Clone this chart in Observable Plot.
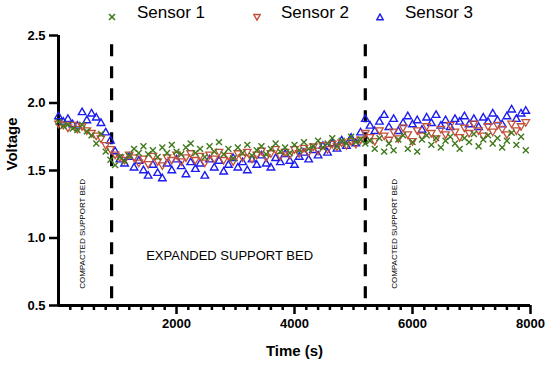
<!DOCTYPE html>
<html>
<head>
<meta charset="utf-8">
<script src="https://cdn.jsdelivr.net/npm/d3@7"></script>
<script src="https://cdn.jsdelivr.net/npm/@observablehq/plot@0.6"></script>
<style>
  body { margin: 0; background: #fff; font-family: Arial, "Liberation Sans", sans-serif; }
  #wrap { width: 550px; position: relative; }
  #legend { position: relative; height: 26px; width: 550px; }
  .item { position: absolute; top: 3px; font-size: 17px; line-height: 20px; color: #000; white-space: nowrap; }
  .sym { position: absolute; top: 7px; }
</style>
</head>
<body>
<div id="wrap">
  <div id="legend"></div>
  <div id="chart"></div>
</div>
<script>
const time = [0,80,160,240,320,400,480,560,640,720,800,880,960,1040,1120,1200,1280,1360,1440,1520,1600,1680,1760,1840,1920,2000,2080,2160,2240,2320,2400,2480,2560,2640,2720,2800,2880,2960,3040,3120,3200,3280,3360,3440,3520,3600,3680,3760,3840,3920,4000,4080,4160,4240,4320,4400,4480,4560,4640,4720,4800,4880,4960,5040,5120,5200,5280,5360,5440,5520,5600,5680,5760,5840,5920,6000,6080,6160,6240,6320,6400,6480,6560,6640,6720,6800,6880,6960,7040,7120,7200,7280,7360,7440,7520,7600,7680,7760,7840,7920];

const sensor1 = [1.86,1.83,1.84,1.81,1.80,1.84,1.79,1.76,1.70,1.77,1.64,1.58,1.54,1.60,1.57,1.61,1.66,1.63,1.68,1.62,1.65,1.60,1.67,1.63,1.69,1.64,1.62,1.67,1.70,1.63,1.66,1.60,1.68,1.64,1.71,1.62,1.66,1.59,1.67,1.63,1.69,1.61,1.65,1.68,1.62,1.66,1.70,1.64,1.67,1.63,1.69,1.65,1.71,1.66,1.68,1.72,1.67,1.70,1.74,1.68,1.72,1.70,1.75,1.71,1.73,1.70,1.72,1.66,1.74,1.64,1.70,1.65,1.73,1.76,1.66,1.71,1.64,1.73,1.76,1.69,1.74,1.67,1.72,1.75,1.70,1.66,1.74,1.71,1.77,1.68,1.73,1.76,1.70,1.74,1.67,1.72,1.78,1.69,1.75,1.65];

const sensor2 = [1.85,1.84,1.82,1.84,1.81,1.83,1.80,1.78,1.76,1.74,1.69,1.66,1.62,1.60,1.58,1.62,1.60,1.56,1.59,1.55,1.61,1.57,1.54,1.60,1.58,1.62,1.57,1.60,1.63,1.58,1.61,1.56,1.62,1.59,1.64,1.58,1.61,1.57,1.63,1.60,1.64,1.59,1.62,1.65,1.60,1.63,1.66,1.61,1.64,1.62,1.66,1.63,1.67,1.64,1.68,1.65,1.69,1.66,1.70,1.68,1.71,1.69,1.72,1.70,1.73,1.78,1.75,1.72,1.80,1.76,1.73,1.79,1.74,1.82,1.77,1.72,1.80,1.76,1.83,1.78,1.74,1.81,1.77,1.84,1.79,1.75,1.82,1.78,1.85,1.80,1.76,1.83,1.79,1.84,1.81,1.77,1.85,1.80,1.83,1.86];

const sensor3 = [1.90,1.86,1.88,1.84,1.83,1.93,1.87,1.92,1.89,1.85,1.78,1.72,1.64,1.58,1.55,1.60,1.52,1.57,1.50,1.46,1.54,1.48,1.44,1.55,1.50,1.58,1.53,1.47,1.56,1.51,1.55,1.46,1.58,1.52,1.57,1.49,1.54,1.59,1.52,1.56,1.50,1.58,1.54,1.61,1.55,1.52,1.59,1.56,1.62,1.57,1.54,1.60,1.63,1.58,1.65,1.61,1.68,1.63,1.70,1.66,1.72,1.68,1.74,1.70,1.78,1.88,1.83,1.79,1.86,1.91,1.82,1.88,1.79,1.85,1.90,1.84,1.87,1.80,1.89,1.85,1.91,1.83,1.87,1.82,1.88,1.86,1.90,1.84,1.88,1.82,1.89,1.86,1.92,1.87,1.84,1.90,1.95,1.88,1.92,1.94];

const seriesNames = ["Sensor 1", "Sensor 2", "Sensor 3"];
const seriesColors = ["#3f7a1c", "#c2503a", "#1c1cf0"];
const phaseBoundaries = [900, 5200];
const majorTicksX = [2000, 4000, 6000, 8000];
const minorTicksX = [200,400,600,800,1000,1200,1400,1600,1800,2200,2400,2600,2800,3000,3200,3400,3600,3800,4200,4400,4600,4800,5000,5200,5400,5600,5800,6200,6400,6600,6800,7000,7200,7400,7600,7800];
const ticksY = [0.5, 1.0, 1.5, 2.0, 2.5];
const annotations = [
  {t: 400, v: 1.03, label: "COMPACTED SUPPORT BED", rotate: -90, size: 8},
  {t: 5700, v: 1.03, label: "COMPACTED SUPPORT BED", rotate: -90, size: 8},
  {t: 2900, v: 0.87, label: "EXPANDED SUPPORT BED", rotate: 0, size: 13}
];

const s1 = time.map((t, i) => ({t, v: sensor1[i]}));
const s2 = time.map((t, i) => ({t, v: sensor2[i]}));
const s3 = time.map((t, i) => ({t, v: sensor3[i]}));

// legend
const legend = document.getElementById("legend");
const legendPos = [[108, 137], [253, 281], [376, 405]];
const symPaths = [
  '<path d="M1,1L7,7M7,1L1,7" stroke="COL" stroke-width="1.6" fill="none"/>',
  '<path d="M0.8,1.5L7.2,1.5L4,7.2Z" stroke="COL" stroke-width="1.4" fill="none"/>',
  '<path d="M0.8,6.8L7.2,6.8L4,1.0Z" stroke="COL" stroke-width="1.4" fill="none"/>'
];
seriesNames.forEach((name, i) => {
  const s = document.createElement("div");
  s.className = "sym";
  s.style.left = legendPos[i][0] + "px";
  s.innerHTML = '<svg width="8" height="8">' + symPaths[i].replace("COL", seriesColors[i]) + '</svg>';
  legend.appendChild(s);
  const t = document.createElement("div");
  t.className = "item";
  t.style.left = legendPos[i][1] + "px";
  t.textContent = name;
  legend.appendChild(t);
});

const chart = Plot.plot({
  width: 550,
  height: 346,
  marginLeft: 58,
  marginRight: 20,
  marginTop: 9,
  marginBottom: 67,
  style: {fontFamily: "Arial, 'Liberation Sans', sans-serif", fontSize: "13px", color: "#000", background: "#fff"},
  x: {domain: [0, 8000]},
  y: {domain: [0.5, 2.5]},
  marks: [
    Plot.axisX({ticks: minorTicksX, tickSize: 5, strokeWidth: 2.5, text: null, label: null}),
    Plot.axisX({ticks: majorTicksX, tickSize: 9, strokeWidth: 2.5, tickPadding: 4, fontWeight: "bold", fontSize: 13, tickFormat: d => String(d), label: null}),
    Plot.axisY({ticks: ticksY, tickSize: 9, strokeWidth: 2.5, tickPadding: 4, fontWeight: "bold", fontSize: 13, tickFormat: d => d.toFixed(1), label: null}),
    Plot.ruleX([0], {strokeWidth: 3, stroke: "#000"}),
    Plot.ruleY([0.5], {strokeWidth: 3, stroke: "#000"}),
    Plot.ruleX(phaseBoundaries, {y1: 0.55, y2: 2.48, stroke: "#000", strokeWidth: 3.2, strokeDasharray: "12,10"}),
    Plot.dot(s3, {x: "t", y: "v", symbol: "triangle", r: 2.8, stroke: seriesColors[2], strokeWidth: 1.4, fill: "none"}),
    Plot.dot(s2, {x: "t", y: "v", symbol: "triangle", rotate: 180, r: 2.8, stroke: seriesColors[1], strokeWidth: 1.3, fill: "none"}),
    Plot.dot(s1, {x: "t", y: "v", symbol: "times", r: 2.8, stroke: seriesColors[0], strokeWidth: 1.4}),
    Plot.text(annotations, {x: "t", y: "v", text: "label", rotate: "rotate", fontSize: d => d.size, fill: "#000"}),
    Plot.text(["Time (s)"], {frameAnchor: "bottom", dy: 50, fontWeight: "bold", fontSize: 15}),
    Plot.text(["Voltage"], {frameAnchor: "left", dx: -46, rotate: -90, fontWeight: "bold", fontSize: 15})
  ]
});
document.getElementById("chart").appendChild(chart);
</script>
</body>
</html>
